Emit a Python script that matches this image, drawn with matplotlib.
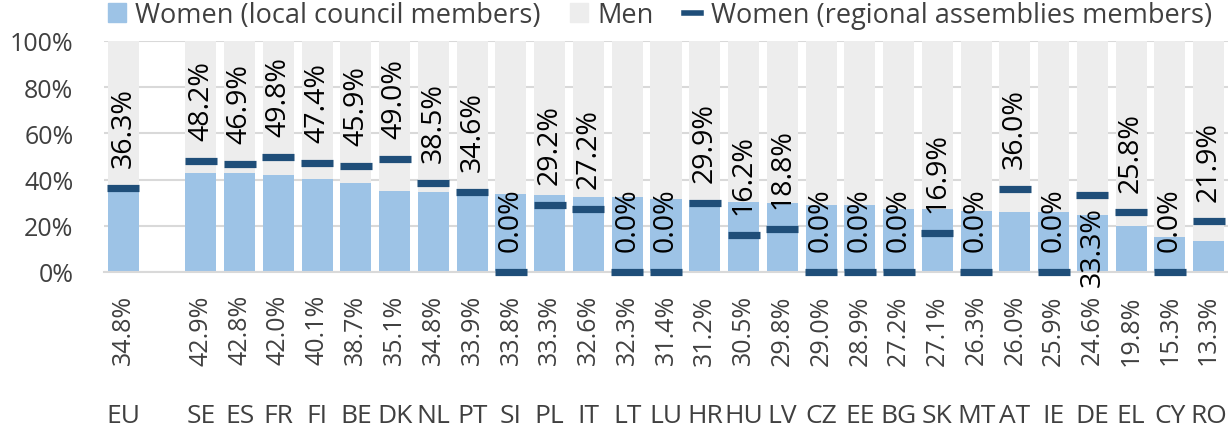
import matplotlib
matplotlib.use("Agg")
import matplotlib.pyplot as plt
import numpy as np
from matplotlib.patches import Patch
from matplotlib.lines import Line2D

plt.rcParams['font.family'] = ['Open Sans', 'DejaVu Sans']

categories = ["EU", "", "SE", "ES", "FR", "FI", "BE", "DK", "NL", "PT", "SI", "PL", "IT", "LT",
              "LU", "HR", "HU", "LV", "CZ", "EE", "BG", "SK", "MT", "AT", "IE", "DE", "EL", "CY", "RO"]
women_local = [34.8, None, 42.9, 42.8, 42.0, 40.1, 38.7, 35.1, 34.8, 33.9, 33.8, 33.3, 32.6, 32.3,
               31.4, 31.2, 30.5, 29.8, 29.0, 28.9, 27.2, 27.1, 26.3, 26.0, 25.9, 24.6, 19.8, 15.3, 13.3]
men = [65.2, None, 57.1, 57.2, 58.0, 59.9, 61.3, 64.9, 65.2, 66.1, 66.2, 66.7, 67.4, 67.7,
       68.6, 68.8, 69.5, 70.2, 71.0, 71.1, 72.8, 72.9, 73.7, 74.0, 74.1, 75.4, 80.2, 84.7, 86.7]
women_regional = [36.3, None, 48.2, 46.9, 49.8, 47.4, 45.9, 49.0, 38.5, 34.6, 0.0, 29.2, 27.2, 0.0,
                  0.0, 29.9, 16.2, 18.8, 0.0, 0.0, 0.0, 16.9, 0.0, 36.0, 0.0, 33.3, 25.8, 0.0, 21.9]

def arr(v):
    return np.array([np.nan if x is None else x for x in v], dtype=float)

wl, mn, wr = arr(women_local), arr(men), arr(women_regional)
x = np.arange(len(categories))

c_local = "#9DC3E6"
c_men = "#EDEDED"
c_reg = "#1F4E79"
txt_grey = "#404040"

fig = plt.figure(figsize=(12.28, 4.27), dpi=100)
ax = fig.add_axes([104/1228, (427-273)/427, 1 - 104/1228, (273-42)/427])

ax.bar(x, wl, width=0.8, color=c_local, zorder=2)
ax.bar(x, mn, width=0.8, bottom=wl, color=c_men, zorder=2)
ax.plot(x, wr, linestyle='none', marker='_', markersize=23, markeredgewidth=5.2,
        color=c_reg, zorder=4, clip_on=False)

ax.set_xlim(-0.5, len(categories) - 0.5)
ax.set_ylim(0, 100)
ax.set_yticks([0, 20, 40, 60, 80, 100])
ax.set_yticklabels([f"{v}%" for v in [0, 20, 40, 60, 80, 100]], fontsize=18, color=txt_grey)
ax.tick_params(axis='y', length=0, pad=22)
ax.set_xticks([])
ax.grid(axis='y', color="#D9D9D9", linewidth=1.5, zorder=0)
ax.set_axisbelow(True)
for s in ['left', 'right', 'top']:
    ax.spines[s].set_visible(False)
ax.spines['bottom'].set_color("#D9D9D9")
ax.spines['bottom'].set_linewidth(1.5)

for i, cat in enumerate(categories):
    if np.isnan(wl[i]):
        continue
    # regional labels
    if cat == "DE":
        ax.annotate(f"{wr[i]:.1f}%", xy=(i, wr[i]), xytext=(0, -8), textcoords='offset points',
                    rotation=90, ha='center', va='top', fontsize=20.5, color='black', zorder=5,
                    annotation_clip=False)
    else:
        ax.annotate(f"{wr[i]:.1f}%", xy=(i, wr[i]), xytext=(0, 15), textcoords='offset points',
                    rotation=90, ha='center', va='bottom', fontsize=20.5, color='black', zorder=5,
                    annotation_clip=False)
    # local labels below axis
    ax.annotate(f"{wl[i]:.1f}%", xy=(i, 0), xycoords=('data', 'axes fraction'),
                xytext=(0, -16), textcoords='offset points', rotation=90,
                ha='center', va='top', fontsize=18, color=txt_grey, annotation_clip=False)
    ax.annotate(cat, xy=(i, 0), xycoords=('data', 'axes fraction'),
                xytext=(0, -103), textcoords='offset points',
                ha='center', va='center', fontsize=19, color=txt_grey, annotation_clip=False)

handles = [Patch(color=c_local), Patch(color=c_men),
           Line2D([], [], color=c_reg, linewidth=4)]
labels = ["Women (local council members)", "Men", "Women (regional assemblies members)"]
fig.legend(handles, labels, loc='center left', bbox_to_anchor=(108/1228, 1 - 16/427),
           ncol=3, frameon=False, fontsize=19.5, labelcolor=txt_grey,
           handlelength=0.65, handleheight=0.65, handletextpad=0.35, columnspacing=1.1,
           borderpad=0, borderaxespad=0)

fig.savefig("out.png", dpi=100)
